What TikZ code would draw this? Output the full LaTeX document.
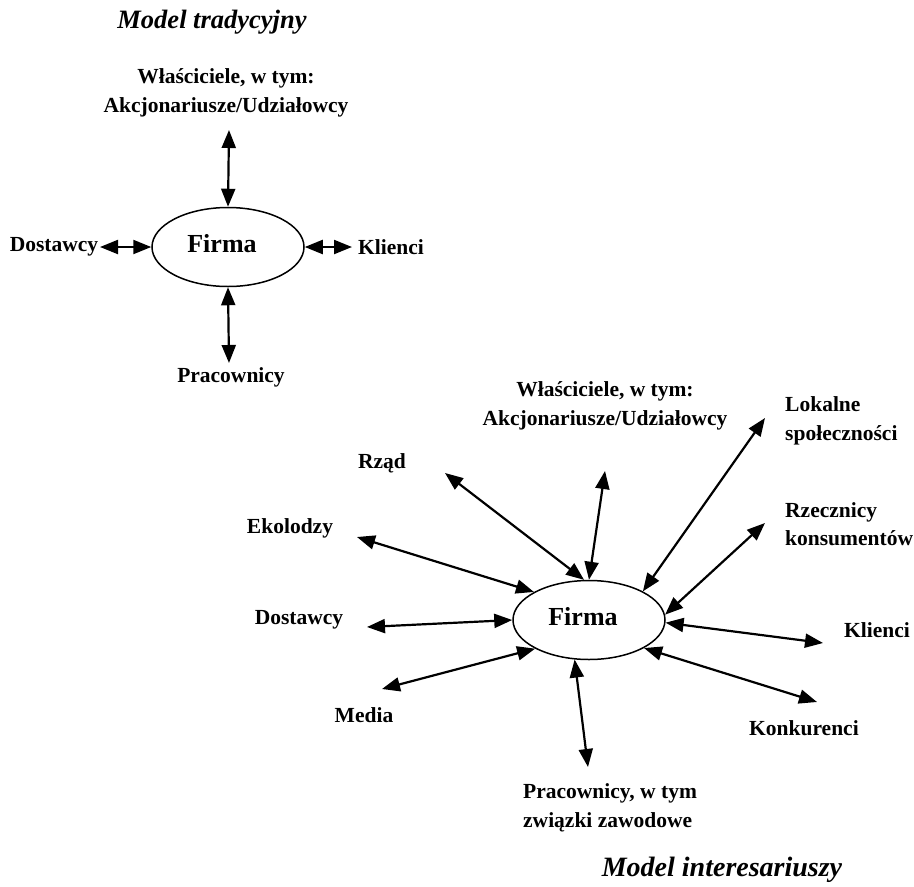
\documentclass[tikz,border=0pt]{standalone}
\usepackage{fontspec}
\setmainfont{Liberation Serif}
\usetikzlibrary{arrows.meta,shapes.geometric}
\begin{document}
\begin{tikzpicture}[x=1pt,y=-1pt,
  lbl/.style={font=\fontsize{21.5}{28.5}\selectfont\bfseries, inner sep=0pt, align=center},
  lbll/.style={lbl, align=left},
  ttl/.style={font=\fontsize{26.5}{30}\selectfont\bfseries\itshape, inner sep=0pt},
  firm/.style={draw, ellipse, line width=1.5pt, minimum width=152pt, minimum height=79pt, inner sep=0pt},
  firmtxt/.style={font=\fontsize{26}{30}\selectfont\bfseries, inner sep=0pt},
  tip/.tip={Triangle[length=18pt,width=14pt]},
  dbl/.style={line width=2.2pt, tip-tip}
]
\path[use as bounding box, fill=white] (0,0) rectangle (914,887);

% ---------- traditional model ----------
\node[ttl] (t1) at (212,22) {Model tradycyjny};
\node[lbl] (own1) at (226,93) {Właściciele, w tym:\\Akcjonariusze/Udziałowcy};
\node[firm] (F1) at (228,247) {};
\node[firmtxt] (F1t) at (222,244) {Firma};
\node[lbl] (dos1) at (54,247) {Dostawcy};
\node[lbl] (kli1) at (391,247) {Klienci};
\node[lbl] (pra1) at (231,377) {Pracownicy};

\coordinate (o1) at (229,130);
\coordinate (d1) at (100,247);
\coordinate (k1) at (352,247);
\coordinate (p1) at (229,363);

\draw[dbl] (o1) -- (F1.north);
\draw[dbl] (d1) -- (F1.west);
\draw[dbl] (F1.east) -- (k1);
\draw[dbl] (F1.south) -- (p1);

% ---------- stakeholder model ----------
\node[firm] (F2) at (589,620) {};
\node[firmtxt] (F2t) at (583,617) {Firma};
\node[lbl] (own2) at (605,406) {Właściciele, w tym:\\Akcjonariusze/Udziałowcy};
\node[lbll, anchor=west] (lok) at (785,421) {Lokalne\\społeczności};
\node[lbll, anchor=west] (rze) at (785,524) {Rzecznicy\\konsumentów};
\node[lbl] (rza) at (382,463) {Rząd};
\node[lbl] (eko) at (290,528) {Ekolodzy};
\node[lbl] (dos2) at (299,620) {Dostawcy};
\node[lbl] (med) at (364,715) {Media};
\node[lbl] (kli2) at (877,630) {Klienci};
\node[lbl] (kon) at (804,728) {Konkurenci};
\node[lbll, anchor=west] (pra2) at (523,808) {Pracownicy, w tym\\związki zawodowe};
\node[ttl, font=\fontsize{28}{30}\selectfont\bfseries\itshape] (t2) at (722,870) {Model interesariuszy};

\coordinate (eo) at (605,471);
\coordinate (el) at (765,418);
\coordinate (er) at (765,523);
\coordinate (ek) at (823,643);
\coordinate (ekn) at (817,702);
\coordinate (ep) at (588,767);
\coordinate (em) at (382,689);
\coordinate (ed) at (367,627);
\coordinate (ee) at (357,537);
\coordinate (ez) at (445,473);

\draw[dbl] (eo) -- (F2.north);
\draw[dbl] (ez) -- (F2.97);
\draw[dbl] (el) -- (F2.28);
\draw[dbl] (er) -- (F2.4);
\draw[dbl] (F2.-2) -- (ek);
\draw[dbl] (F2.333) -- (ekn);
\draw[dbl] (F2.250) -- (ep);
\draw[dbl] (F2.208) -- (em);
\draw[dbl] (ed) -- (F2.west);
\draw[dbl] (ee) -- (F2.153);
\end{tikzpicture}
\end{document}
